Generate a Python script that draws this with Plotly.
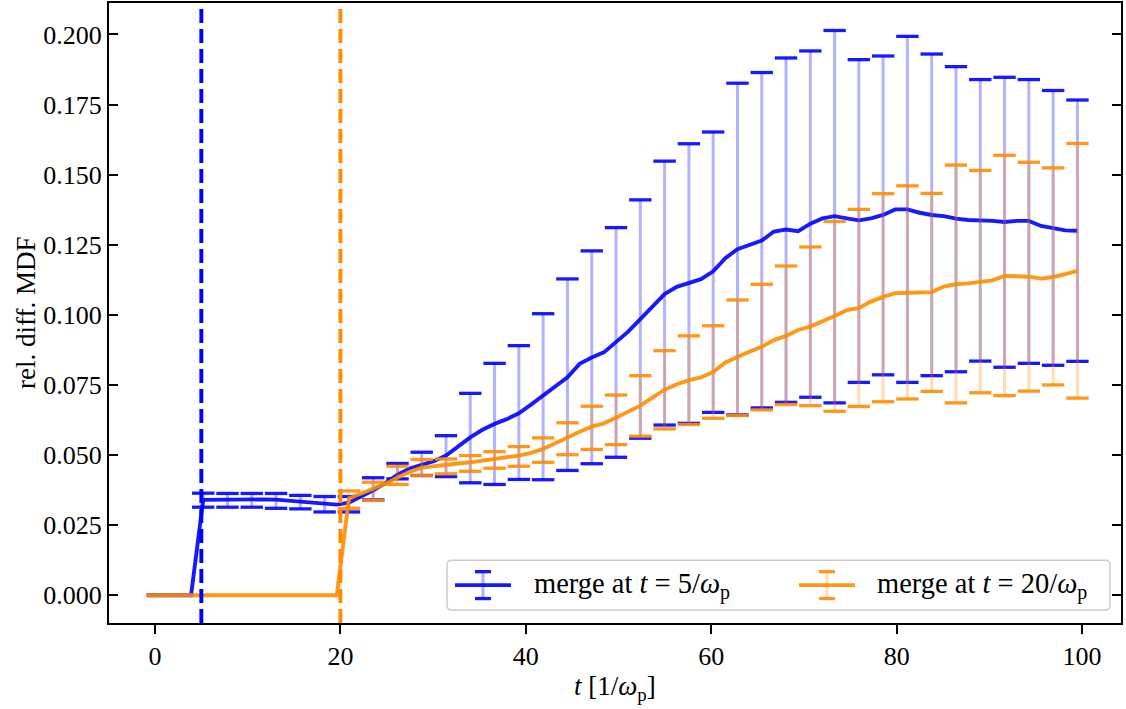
import plotly.graph_objects as go

# ---------------- data ----------------
t_grid = [5.20, 6.51, 7.82, 9.13, 10.44, 11.75, 13.06, 14.37, 15.68, 16.99,
          18.30, 19.61, 20.92, 22.23, 23.54, 24.85, 26.16, 27.47, 28.77, 30.08,
          31.39, 32.70, 34.01, 35.32, 36.63, 37.94, 39.25, 40.56, 41.87, 43.18,
          44.49, 45.80, 47.11, 48.42, 49.73, 51.04, 52.35, 53.66, 54.97, 56.28,
          57.59, 58.90, 60.21, 61.52, 62.83, 64.14, 65.45, 66.76, 68.07, 69.38,
          70.69, 72.00, 73.31, 74.62, 75.92, 77.23, 78.54, 79.85, 81.16, 82.47,
          83.78, 85.09, 86.40, 87.71, 89.02, 90.33, 91.64, 92.95, 94.26, 95.57,
          96.88, 98.19, 99.50]

t_start = -0.9          # first sample of both runs
t_blue_pre = 3.89       # last zero sample before merge at t=5
t_orange_pre = 19.61    # last zero sample before merge at t=20

blue_mean = [0.0340, 0.0341, 0.0342, 0.0342, 0.0342, 0.0342, 0.0341, 0.0338, 0.0335, 0.0331,
             0.0328, 0.0323, 0.0330, 0.0352, 0.0374, 0.0400, 0.0430, 0.0452, 0.0466, 0.0478,
             0.0498, 0.0530, 0.0563, 0.0590, 0.0611, 0.0628, 0.0649, 0.0680, 0.0712, 0.0745,
             0.0777, 0.0825, 0.0848, 0.0866, 0.0901, 0.0940, 0.0985, 0.1030, 0.1074, 0.1100,
             0.1112, 0.1127, 0.1155, 0.1202, 0.1234, 0.1248, 0.1265, 0.1297, 0.1304, 0.1298,
             0.1325, 0.1344, 0.1352, 0.1344, 0.1337, 0.1344, 0.1356, 0.1376, 0.1376, 0.1364,
             0.1356, 0.1352, 0.1343, 0.1338, 0.1338, 0.1335, 0.1331, 0.1335, 0.1335, 0.1317,
             0.1309, 0.1301, 0.1300]

orange_mean = [0.0345, 0.0362, 0.0380, 0.0398, 0.0420, 0.0440, 0.0455, 0.0461, 0.0466, 0.0470,
               0.0474, 0.0480, 0.0486, 0.0492, 0.0498, 0.0508, 0.0522, 0.0542, 0.0563, 0.0583,
               0.0601, 0.0613, 0.0633, 0.0655, 0.0676, 0.0705, 0.0733, 0.0752, 0.0767, 0.0777,
               0.0796, 0.0830, 0.0850, 0.0869, 0.0886, 0.0910, 0.0925, 0.0946, 0.0958, 0.0976,
               0.0996, 0.1017, 0.1024, 0.1047, 0.1064, 0.1077, 0.1079, 0.1078, 0.1081, 0.1101,
               0.1109, 0.1112, 0.1116, 0.1123, 0.1139, 0.1138, 0.1136, 0.1129, 0.1135, 0.1145,
               0.1157]

blue_upper = [0.0364, 0.0363, 0.0363, 0.0363, 0.0356, 0.0352, 0.0352, 0.0419, 0.0470, 0.0510,
              0.0569, 0.0720, 0.0827, 0.0890, 0.1004, 0.1128, 0.1228, 0.1311, 0.1410, 0.1548,
              0.1610, 0.1652, 0.1826, 0.1864, 0.1916, 0.1941, 0.2014, 0.1910, 0.1923, 0.1993,
              0.1930, 0.1885, 0.1839, 0.1847, 0.1839, 0.1800, 0.1766]
blue_lower = [0.0314, 0.0314, 0.0314, 0.0310, 0.0308, 0.0297, 0.0297, 0.0340, 0.0415, 0.0427,
              0.0423, 0.0401, 0.0395, 0.0413, 0.0412, 0.0445, 0.0469, 0.0492, 0.0560, 0.0607,
              0.0613, 0.0652, 0.0643, 0.0668, 0.0688, 0.0706, 0.0686, 0.0759, 0.0786, 0.0759,
              0.0783, 0.0797, 0.0835, 0.0813, 0.0827, 0.0820, 0.0834]

orange_upper = [0.0372, 0.0403, 0.0460, 0.0484, 0.0486, 0.0498, 0.0512, 0.0530, 0.0561, 0.0615,
                0.0674, 0.0714, 0.0783, 0.0872, 0.0925, 0.0961, 0.1053, 0.1109, 0.1174, 0.1242,
                0.1333, 0.1376, 0.1432, 0.1460, 0.1433, 0.1534, 0.1515, 0.1569, 0.1544, 0.1524,
                0.1611]
orange_lower = [0.0310, 0.0338, 0.0395, 0.0427, 0.0433, 0.0442, 0.0453, 0.0460, 0.0474, 0.0501,
                0.0520, 0.0537, 0.0567, 0.0593, 0.0609, 0.0631, 0.0641, 0.0661, 0.0680, 0.0676,
                0.0656, 0.0673, 0.0690, 0.0700, 0.0727, 0.0686, 0.0722, 0.0712, 0.0728, 0.0750,
                0.0703]

merge_times = [5, 20]
x_ticks = [0, 20, 40, 60, 80, 100]
y_ticks = [0.0, 0.025, 0.05, 0.075, 0.1, 0.125, 0.15, 0.175, 0.2]
legend_labels = ["merge at <i>t</i> = 5/<i>ω</i><sub>p</sub>",
                 "merge at <i>t</i> = 20/<i>ω</i><sub>p</sub>"]

# ---------------- styling ----------------
BLUE = "rgba(0,0,255,0.9)"
BLUE_BAR = "rgba(0,0,255,0.3)"
ORANGE = "rgba(255,140,0,0.9)"
ORANGE_BAR = "rgba(255,140,0,0.3)"
FONT = "Liberation Serif"
W, H = 1126, 709
ML, MR, MT, MB = 109, 5, 1, 86
PW, PH = W - ML - MR, H - MT - MB


def px(x):
    return (x - ML) / PW


def py(y):
    return (H - MB - y) / PH


fig = go.Figure()


def add_run(t_line, y_line, t_eb, y_eb, up, lo, col, bar_col):
    fig.add_trace(go.Scatter(
        x=t_eb, y=y_eb, mode="markers", marker=dict(size=1, opacity=0),
        error_y=dict(type="data", symmetric=False,
                     array=[u - c for u, c in zip(up, y_eb)],
                     arrayminus=[c - l for l, c in zip(lo, y_eb)],
                     color=bar_col, thickness=3, width=0),
        showlegend=False, hoverinfo="skip"))
    fig.add_trace(go.Scatter(
        x=t_eb + t_eb, y=up + lo, mode="markers",
        marker=dict(symbol="line-ew", size=16, line=dict(color=col, width=3.3)),
        showlegend=False, hoverinfo="skip"))
    fig.add_trace(go.Scatter(
        x=t_line, y=y_line, mode="lines", line=dict(color=col, width=3.9),
        showlegend=False))


blue_t = [t_start, t_blue_pre] + t_grid
blue_y = [0.0, 0.0] + blue_mean
add_run(blue_t, blue_y, t_grid[0::2], blue_mean[0::2], blue_upper, blue_lower, BLUE, BLUE_BAR)

orange_t = [t_start, t_orange_pre] + t_grid[12:]
orange_y = [0.0, 0.0] + orange_mean
add_run(orange_t, orange_y, t_grid[12::2], orange_mean[0::2], orange_upper, orange_lower, ORANGE, ORANGE_BAR)

shapes = []
for mt, col in zip(merge_times, ["rgb(0,0,255)", "rgb(255,140,0)"]):
    shapes.append(dict(type="line", xref="x", yref="paper", x0=mt, x1=mt, y0=0, y1=1,
                       line=dict(color=col, width=3.9, dash="14px,6px"), layer="above"))

# legend box (rounded)
bx0, bx1, by0, by1, r = 447, 1110, 560, 610, 5
path = (f"M {px(bx0 + r)} {py(by0)} L {px(bx1 - r)} {py(by0)} "
        f"Q {px(bx1)} {py(by0)} {px(bx1)} {py(by0 + r)} L {px(bx1)} {py(by1 - r)} "
        f"Q {px(bx1)} {py(by1)} {px(bx1 - r)} {py(by1)} L {px(bx0 + r)} {py(by1)} "
        f"Q {px(bx0)} {py(by1)} {px(bx0)} {py(by1 - r)} L {px(bx0)} {py(by0 + r)} "
        f"Q {px(bx0)} {py(by0)} {px(bx0 + r)} {py(by0)} Z")
shapes.append(dict(type="path", xref="paper", yref="paper", path=path,
                   fillcolor="rgba(255,255,255,0.8)", line=dict(color="#cccccc", width=1.5),
                   layer="above"))

annotations = []
for hx, tx, col, bar_col, lab in [(455, 532, BLUE, BLUE_BAR, legend_labels[0]),
                                  (799, 875, ORANGE, ORANGE_BAR, legend_labels[1])]:
    ly = 585
    cx = hx + 28
    shapes.append(dict(type="line", xref="paper", yref="paper", x0=px(cx), x1=px(cx),
                       y0=py(ly - 13.5), y1=py(ly + 13.5), line=dict(color=bar_col, width=3), layer="above"))
    shapes.append(dict(type="line", xref="paper", yref="paper", x0=px(hx), x1=px(hx + 56),
                       y0=py(ly), y1=py(ly), line=dict(color=col, width=3.9), layer="above"))
    for cy in (ly - 13.5, ly + 13.5):
        shapes.append(dict(type="line", xref="paper", yref="paper", x0=px(cx - 8), x1=px(cx + 8),
                           y0=py(cy), y1=py(cy), line=dict(color=col, width=3.3), layer="above"))
    annotations.append(dict(xref="paper", yref="paper", x=px(tx), y=py(ly + 1), text=lab,
                            xanchor="left", yanchor="middle", showarrow=False,
                            font=dict(family=FONT, size=28.5, color="black")))

annotations.append(dict(xref="paper", yref="paper", x=0.5, y=py(688),
                        text="<i>t</i> [1/<i>ω</i><sub>p</sub>]", xanchor="center", yanchor="middle",
                        showarrow=False, font=dict(family=FONT, size=27, color="black")))
annotations.append(dict(xref="paper", yref="paper", x=px(26), y=0.5, text="rel. diff. MDF",
                        textangle=-90, xanchor="center", yanchor="middle", showarrow=False,
                        font=dict(family=FONT, size=27, color="black")))

fig.update_layout(
    width=W, height=H, margin=dict(l=ML, r=MR, t=MT, b=MB),
    paper_bgcolor="white", plot_bgcolor="white",
    shapes=shapes, annotations=annotations, showlegend=False,
    xaxis=dict(range=[-4.96, 104.2], tickvals=x_ticks, ticktext=[str(v) for v in x_ticks],
               ticks="outside", ticklen=9, tickwidth=2, tickcolor="black",
               showline=True, linecolor="black", linewidth=2, mirror=True,
               showgrid=False, zeroline=False,
               tickfont=dict(family=FONT, size=26, color="black")),
    yaxis=dict(range=[-0.0099, 0.2112], tickvals=y_ticks, ticktext=[f"{v:.3f}" for v in y_ticks],
               ticks="inside", ticklen=9, tickwidth=2, tickcolor="black",
               showline=True, linecolor="black", linewidth=2, mirror="allticks",
               showgrid=False, zeroline=False,
               tickfont=dict(family=FONT, size=26, color="black")),
)

fig.write_html("out.html")
